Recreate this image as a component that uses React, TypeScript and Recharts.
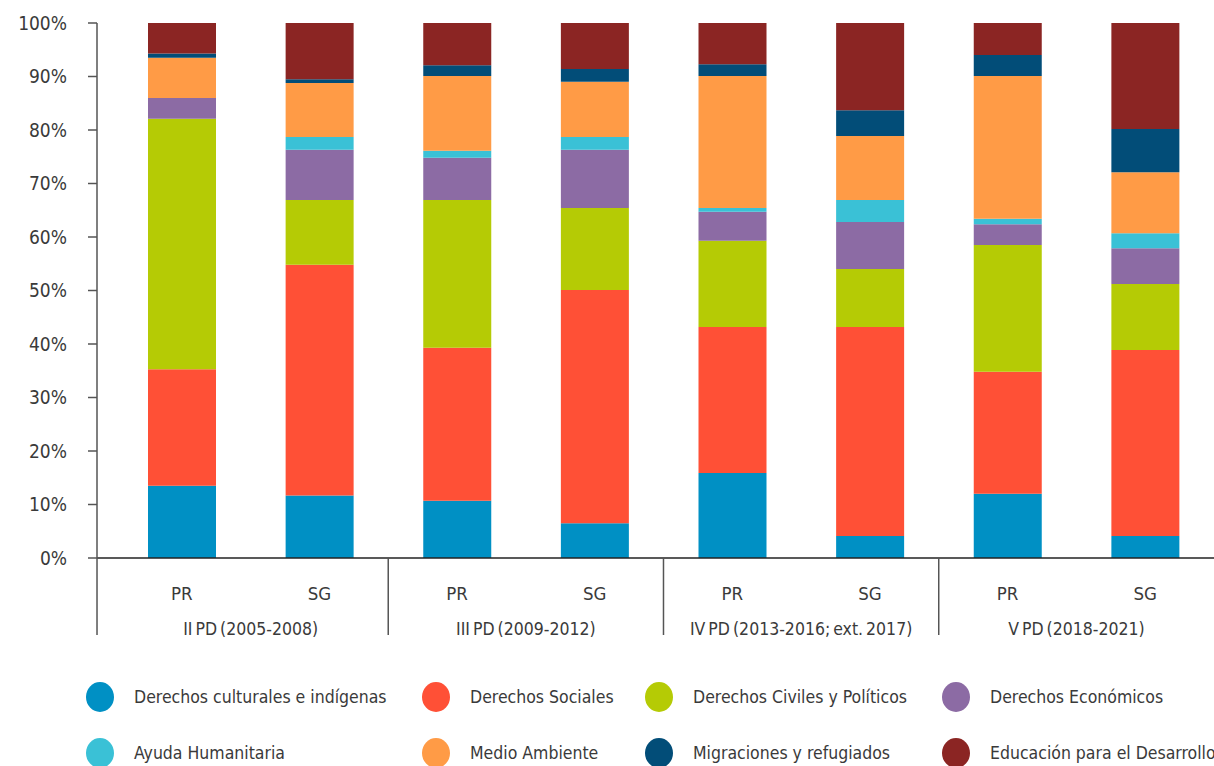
import { Bar, BarChart, XAxis, YAxis } from "recharts";

const categories = ["PR", "SG", "PR", "SG", "PR", "SG", "PR", "SG"];
const periods = [
  "II PD (2005-2008)",
  "III PD (2009-2012)",
  "IV PD (2013-2016; ext. 2017)",
  "V PD (2018-2021)",
];
const yTicks = [0, 10, 20, 30, 40, 50, 60, 70, 80, 90, 100];

const culturales = [13.5, 11.7, 10.7, 6.5, 15.9, 4.1, 12.0, 4.1];
const sociales = [21.8, 43.1, 28.6, 43.6, 27.3, 39.1, 22.8, 34.8];
const civiles = [46.8, 12.1, 27.6, 15.3, 16.1, 10.8, 23.7, 12.3];
const economicos = [3.9, 9.4, 7.9, 10.9, 5.4, 8.8, 3.9, 6.7];
const humanitaria = [0, 2.4, 1.3, 2.4, 0.7, 4.1, 1.0, 2.8];
const ambiente = [7.5, 10.1, 14.0, 10.3, 24.7, 12.0, 26.7, 11.4];
const migraciones = [0.8, 0.7, 2.0, 2.4, 2.2, 4.8, 3.9, 8.1];
const educacion = [5.7, 10.5, 7.9, 8.6, 7.7, 16.3, 6.0, 19.8];

const series = [
  { key: "culturales", name: "Derechos culturales e indígenas", color: "#0090C4", values: culturales },
  { key: "sociales", name: "Derechos Sociales", color: "#FF5036", values: sociales },
  { key: "civiles", name: "Derechos Civiles y Políticos", color: "#B5CB05", values: civiles },
  { key: "economicos", name: "Derechos Económicos", color: "#8C6BA4", values: economicos },
  { key: "humanitaria", name: "Ayuda Humanitaria", color: "#3AC1D6", values: humanitaria },
  { key: "ambiente", name: "Medio Ambiente", color: "#FF9B46", values: ambiente },
  { key: "migraciones", name: "Migraciones y refugiados", color: "#024D78", values: migraciones },
  { key: "educacion", name: "Educación para el Desarrollo", color: "#8B2523", values: educacion },
];

const data = categories.map((c, i) => {
  const row: Record<string, number | string> = { id: i, name: c };
  series.forEach((s) => (row[s.key] = s.values[i]));
  return row;
});

const FONT = "'DejaVu Sans Condensed', 'Liberation Sans Narrow', Roboto, sans-serif";
const TEXT = "#3a3a3a";
const HALF_BAND = 68.8;
const AXIS_Y = 558;

const XTick = (props: any) => {
  const { x, payload } = props;
  const i = Number(payload.value);
  return (
    <g>
      <text x={x} y={AXIS_Y + 42} textAnchor="middle" fontSize={18.5} fill={TEXT} fontFamily={FONT}>
        {categories[i]}
      </text>
      {i % 2 === 1 && (
        <text
          x={x - HALF_BAND}
          y={AXIS_Y + 77}
          textAnchor="middle"
          fontSize={17.5}
          fill={TEXT}
          fontFamily={FONT}
          style={{ wordSpacing: -2 }}
        >
          {periods[(i - 1) / 2]}
        </text>
      )}
      {i === 0 && (
        <line x1={x - HALF_BAND - 16} x2={x - HALF_BAND - 16} y1={AXIS_Y} y2={635} stroke="#555" strokeWidth={1.5} />
      )}
      {i % 2 === 1 && i < categories.length - 1 && (
        <line x1={x + HALF_BAND} x2={x + HALF_BAND} y1={AXIS_Y} y2={635} stroke="#555" strokeWidth={1.5} />
      )}
    </g>
  );
};

const legendCols = [86, 422, 645, 942];
const legendRows = [697, 753];

export default function App() {
  return (
    <div style={{ position: "absolute", left: 0, top: 0, width: 1214, height: 766, overflow: "hidden", background: "#fff" }}>
      <BarChart
        width={1214}
        height={650}
        data={data}
        stackOffset="expand"
        margin={{ top: 23, right: 0, bottom: 12, left: 0 }}
      >
        <XAxis
          dataKey="id"
          type="category"
          padding={{ left: 16, right: 0 }}
          tick={<XTick />}
          tickLine={false}
          tickSize={0}
          height={80}
          axisLine={{ stroke: "#222", strokeWidth: 1.5 }}
          interval={0}
        />
        <YAxis
          width={97}
          domain={[0, 1]}
          ticks={yTicks.map((t) => t / 100)}
          tickFormatter={(v: number) => `${Math.round(v * 100)}%`}
          tick={{ fontSize: 19, fill: TEXT, fontFamily: FONT }}
          tickSize={9}
          tickMargin={21}
          tickLine={{ stroke: "#555", strokeWidth: 1.5 }}
          axisLine={{ stroke: "#555", strokeWidth: 1.5 }}
          interval={0}
        />
        {series.map((s) => (
          <Bar key={s.key} dataKey={s.key} name={s.name} stackId="a" fill={s.color} barSize={68} isAnimationActive={false} />
        ))}
      </BarChart>
      {series.map((s, i) => {
        const left = legendCols[i % 4];
        const cy = legendRows[Math.floor(i / 4)];
        return (
          <div key={s.key} style={{ position: "absolute", left, top: cy - 15, height: 30, display: "flex", alignItems: "center", whiteSpace: "nowrap" }}>
            <div style={{ width: 28, height: 30, borderRadius: "50%", background: s.color }} />
            <span style={{ marginLeft: 20, fontFamily: FONT, fontSize: 17.5, color: TEXT }}>{s.name}</span>
          </div>
        );
      })}
    </div>
  );
}
